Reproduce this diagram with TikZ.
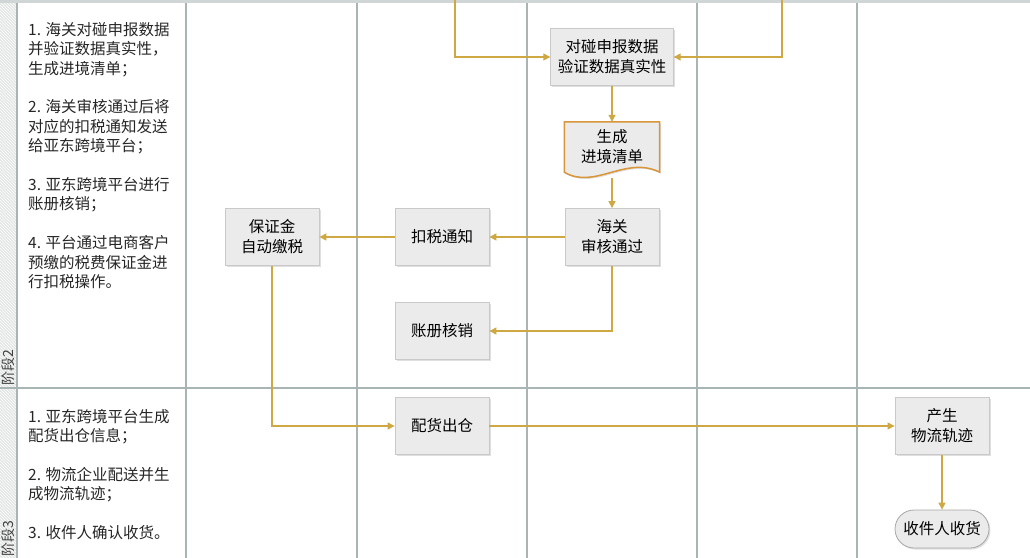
\documentclass[tikz,border=0pt]{standalone}
\usepackage{fontspec}
\setmainfont{Noto Sans CJK SC}
\usetikzlibrary{arrows.meta,shadows,patterns,backgrounds}
\definecolor{arrowgold}{HTML}{CDA843}
\definecolor{lane}{HTML}{A9B5B5}
\definecolor{boxfill}{HTML}{EBEBEB}
\definecolor{boxline}{HTML}{C9C9C9}
\definecolor{docline}{HTML}{D8953A}
\definecolor{stripe}{HTML}{E3E5E5}

\begin{document}
\begin{tikzpicture}[
    x=1pt, y=-1pt,
    lane/.style={draw=lane, line width=1.4pt},
    flow/.style={draw=arrowgold, line width=1.1pt, -{Triangle[length=7pt,width=7pt]}},
    box/.style={rectangle, draw=boxline, fill=boxfill, line width=0.8pt,
        minimum width=94pt, minimum height=57pt, inner sep=7pt, align=center,
        font=\fontsize{15.5}{20}\selectfont,
        drop shadow={shadow xshift=1.5pt, shadow yshift=-1.5pt, opacity=0.25}},
    docbox/.style={rectangle, minimum width=95pt, minimum height=50pt, inner sep=0pt,
        align=center, font=\fontsize{15.5}{20}\selectfont},
    terminal/.style={box, rounded corners=19pt, draw=gray!70, minimum height=38pt, inner sep=4pt},
    notes/.style={anchor=north west, inner sep=0pt, align=left, text=black!85,
        font=\fontsize{15.5}{19.4}\selectfont},
    stagelabel/.style={rotate=90, anchor=west, inner sep=0pt, text=black!75,
        font=\fontsize{14}{14}\selectfont},
    ]
    \useasboundingbox (0,0) rectangle (1030,557);

    % swimlane grid
    \fill[stripe] (0,3) rectangle (17,560);
    \fill[pattern=north west lines, pattern color=white] (0,3) rectangle (17,560);
    \fill[lane!55] (0,0) rectangle (1030,3);
    \draw[lane] (17,3) -- (17,560) (186,3) -- (186,560) (357,3) -- (357,560)
        (527,3) -- (527,560) (697,3) -- (697,560) (857,3) -- (857,560);
    \draw[lane] (0,388) -- (1030,388);

    \node at(8,386) [stagelabel](stage2){阶段2};
    \node at(8,557) [stagelabel](stage3){阶段3};

    \node at(28,22) [notes](notes2){1. 海关对碰申报数据\\ 并验证数据真实性，\\ 生成进境清单；\\[19.4pt]
        2. 海关审核通过后将\\ 对应的扣税通知发送\\ 给亚东跨境平台；\\[19.4pt]
        3. 亚东跨境平台进行\\ 账册核销；\\[19.4pt]
        4. 平台通过电商客户\\ 预缴的税费保证金进\\ 行扣税操作。};
    \node at(28,409) [notes](notes3){1. 亚东跨境平台生成\\ 配货出仓信息；\\[19.4pt]
        2. 物流企业配送并生\\ 成物流轨迹；\\[19.4pt]
        3. 收件人确认收货。};

    % stage 2
    \node at(612,57) [box](check){对碰申报数据\\验证数据真实性};
    \node at(612,147) [docbox](doc){生成\\进境清单};
    \begin{scope}[on background layer]
        \draw[draw=docline, line width=1.5pt, fill=boxfill,
            drop shadow={shadow xshift=1.5pt, shadow yshift=-1.5pt, opacity=0.25}]
            (doc.north west) -- (doc.north east) -- (doc.south east)
            .. controls +(-34,-17) and +(30,18) .. (doc.south west) -- cycle;
    \end{scope}
    \node at(612,237) [box](audit){海关\\审核通过};
    \node at(442,237) [box](notice){扣税通知};
    \node at(272,237) [box](deposit){保证金\\自动缴税};
    \node at(442,331) [box](ledger){账册核销};

    % stage 3
    \node at(442,426) [box](pick){配货出仓};
    \node at(942,426) [box](track){产生\\物流轨迹};
    \node at(942,529) [terminal](recv){收件人收货};

    \coordinate (inL) at (455,0);
    \coordinate (inR) at (782,0);
    \draw[flow] (inL) |- (check);
    \draw[flow] (inR) |- (check);
    \draw[flow] (check) -- (doc);
    \draw[flow] ([yshift=-6pt]doc.south) -- (audit);
    \draw[flow] (audit) -- (notice);
    \draw[flow] (notice) -- (deposit);
    \draw[flow] (audit) |- (ledger);
    \draw[flow] (deposit) |- (pick);
    \draw[flow] (pick) -- (track);
    \draw[flow] (track) -- (recv);
\end{tikzpicture}
\end{document}
